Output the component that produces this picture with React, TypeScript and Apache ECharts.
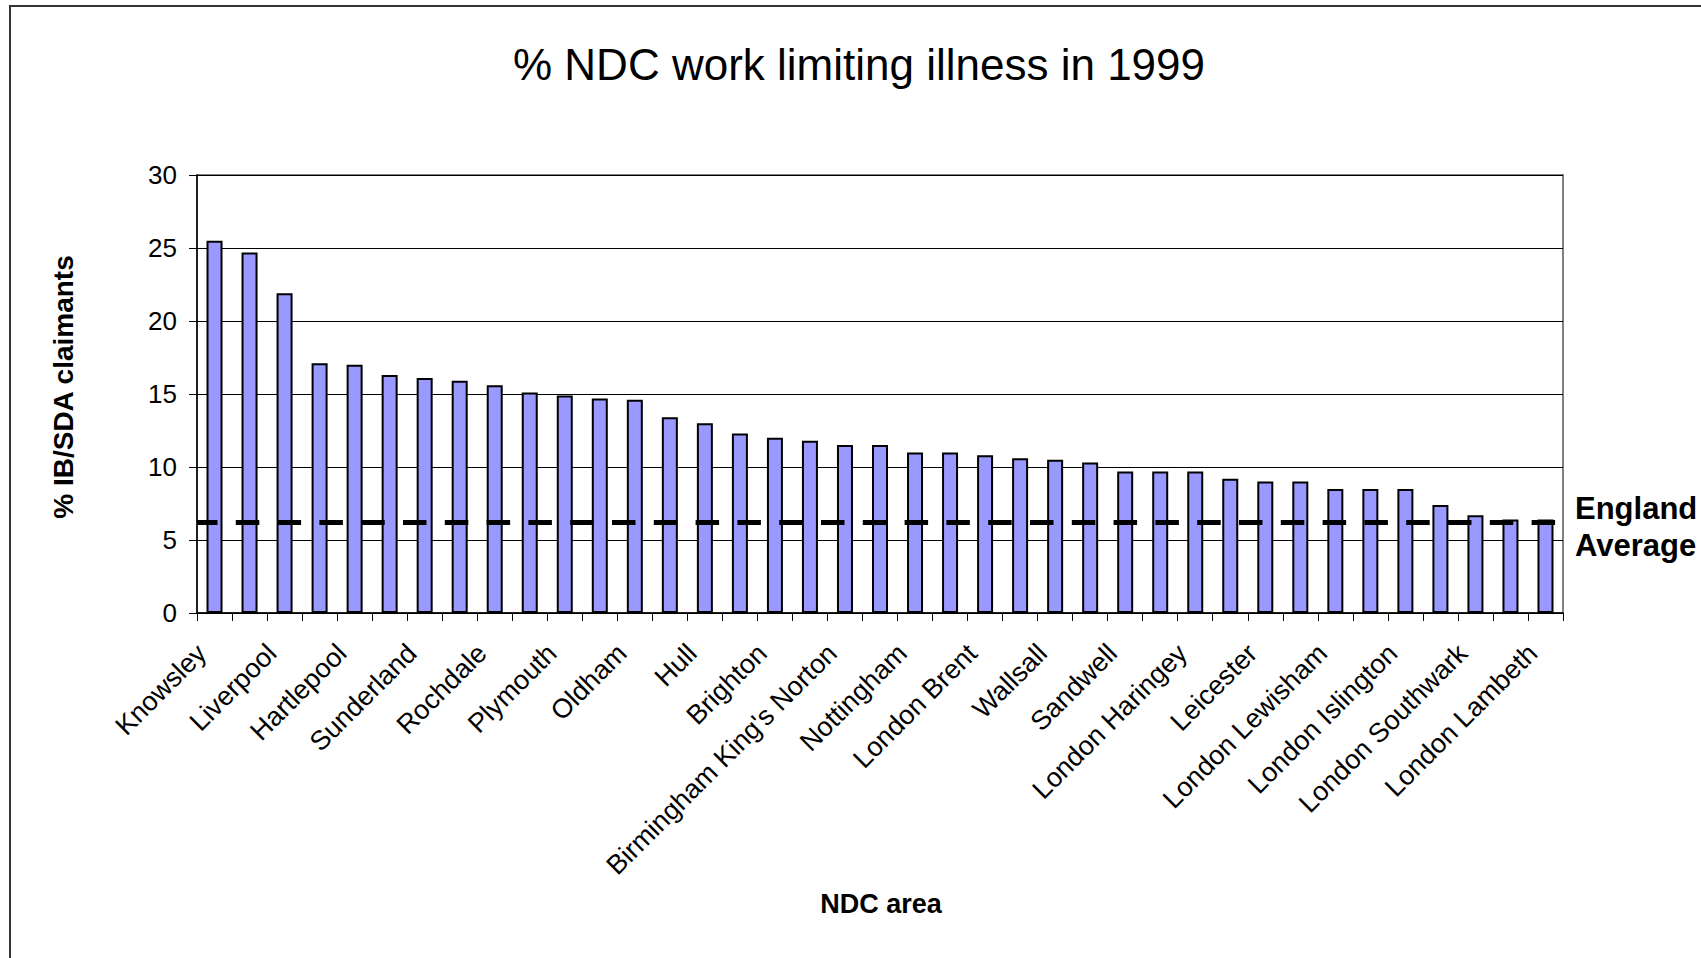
import React, { useEffect, useRef } from "react";
import * as echarts from "echarts";

const FONT = '"Liberation Sans", Arial, sans-serif';

const categories: string[] = [
  "Knowsley", "Middlesbrough", "Liverpool", "Manchester", "Hartlepool", "Salford",
  "Sunderland", "Newcastle", "Rochdale", "Bradford", "Plymouth", "Sheffield",
  "Oldham", "Wolverhampton", "Hull", "Doncaster", "Brighton", "Derby",
  "Birmingham King's Norton", "Birmingham Aston", "Nottingham", "Coventry",
  "London Brent", "Bristol", "Wallsall", "Southampton", "Sandwell", "Norwich",
  "London Haringey", "Luton", "Leicester", "London Hackney", "London Lewisham",
  "London Newham", "London Islington", "London Tower Hamlets", "London Southwark",
  "London Hammersmith", "London Lambeth",
];

const values: number[] = [
  25.5, 24.7, 21.9, 17.1, 17.0, 16.3, 16.1, 15.9, 15.6, 15.1, 14.9, 14.7, 14.6,
  13.4, 13.0, 12.3, 12.0, 11.8, 11.5, 11.5, 11.0, 11.0, 10.8, 10.6, 10.5, 10.3,
  9.7, 9.7, 9.7, 9.2, 9.0, 9.0, 8.5, 8.5, 8.5, 7.4, 6.7, 6.4, 6.4,
];

const englandAverage = 6.2;

const yTicks = { min: 0, max: 30, interval: 5 };

const titleText = "% NDC work limiting illness in 1999";
const yAxisName = "% IB/SDA claimants";
const xAxisName = "NDC area";
const avgLabel = ["England", "Average"];

export default function App() {
  const ref = useRef<HTMLDivElement>(null);

  useEffect(() => {
    if (!ref.current) return;
    const chart = echarts.init(ref.current, null, { renderer: "svg" });
    chart.setOption({
      animation: false,
      backgroundColor: "#ffffff",
      textStyle: { fontFamily: FONT },
      grid: {
        left: 197,
        right: 138,
        top: 175,
        bottom: 345,
        show: true,
        borderColor: "#808080",
        borderWidth: 2,
        backgroundColor: "transparent",
      },
      xAxis: {
        type: "category",
        data: categories,
        boundaryGap: true,
        axisLine: { show: true, lineStyle: { color: "#000", width: 1.5 } },
        axisTick: { show: true, interval: 0, length: 8, lineStyle: { color: "#000", width: 1 } },
        axisLabel: {
          interval: 1,
          rotate: 45,
          margin: 23,
          padding: [0, 18, 0, 0],
          fontSize: 27,
          color: "#000",
          fontFamily: FONT,
        },
        splitLine: { show: false },
      },
      yAxis: {
        type: "value",
        min: yTicks.min,
        max: yTicks.max,
        interval: yTicks.interval,
        axisLine: { show: true, lineStyle: { color: "#000", width: 1.5 } },
        axisTick: { show: true, length: 8, lineStyle: { color: "#000", width: 1 } },
        axisLabel: { margin: 20, fontSize: 26, color: "#000", fontFamily: FONT },
        splitLine: { show: true, lineStyle: { color: "#000", width: 1 } },
      },
      series: [
        {
          type: "bar",
          data: values,
          barWidth: 16,
          itemStyle: { color: "#9999FF", borderColor: "#000", borderWidth: 2 },
          markLine: {
            silent: true,
            symbol: ["none", "none"],
            label: { show: false },
            emphasis: { disabled: true },
            lineStyle: { color: "#000", width: 5, type: [23.5, 18.3], dashOffset: 3 },
            data: [{ yAxis: englandAverage }],
          },
        },
      ],
      graphic: [
        {
          type: "rect",
          shape: { x: 10, y: 6, width: 1760, height: 1000 },
          style: { fill: "none", stroke: "#333", lineWidth: 2 },
          silent: true,
        },
        {
          type: "text",
          x: 859,
          y: 64,
          style: {
            text: titleText,
            fontSize: 44,
            fontFamily: FONT,
            fill: "#000",
            align: "center",
            verticalAlign: "middle",
          },
        },
        {
          type: "text",
          x: 63,
          y: 387,
          rotation: Math.PI / 2,
          style: {
            text: yAxisName,
            fontSize: 28,
            fontWeight: "bold",
            fontFamily: FONT,
            fill: "#000",
            align: "center",
            verticalAlign: "middle",
          },
        },
        {
          type: "text",
          x: 881,
          y: 904,
          style: {
            text: xAxisName,
            fontSize: 27,
            fontWeight: "bold",
            fontFamily: FONT,
            fill: "#000",
            align: "center",
            verticalAlign: "middle",
          },
        },
        {
          type: "text",
          x: 1575,
          y: 508,
          style: {
            text: avgLabel[0],
            fontSize: 31,
            fontWeight: "bold",
            fontFamily: FONT,
            fill: "#000",
            align: "left",
            verticalAlign: "middle",
          },
        },
        {
          type: "text",
          x: 1575,
          y: 545,
          style: {
            text: avgLabel[1],
            fontSize: 31,
            fontWeight: "bold",
            fontFamily: FONT,
            fill: "#000",
            align: "left",
            verticalAlign: "middle",
          },
        },
      ],
    });
    return () => chart.dispose();
  }, []);

  return (
    <div
      ref={ref}
      style={{
        position: "fixed",
        left: 0,
        top: 0,
        width: "1701px",
        height: "958px",
        background: "#fff",
      }}
    />
  );
}
